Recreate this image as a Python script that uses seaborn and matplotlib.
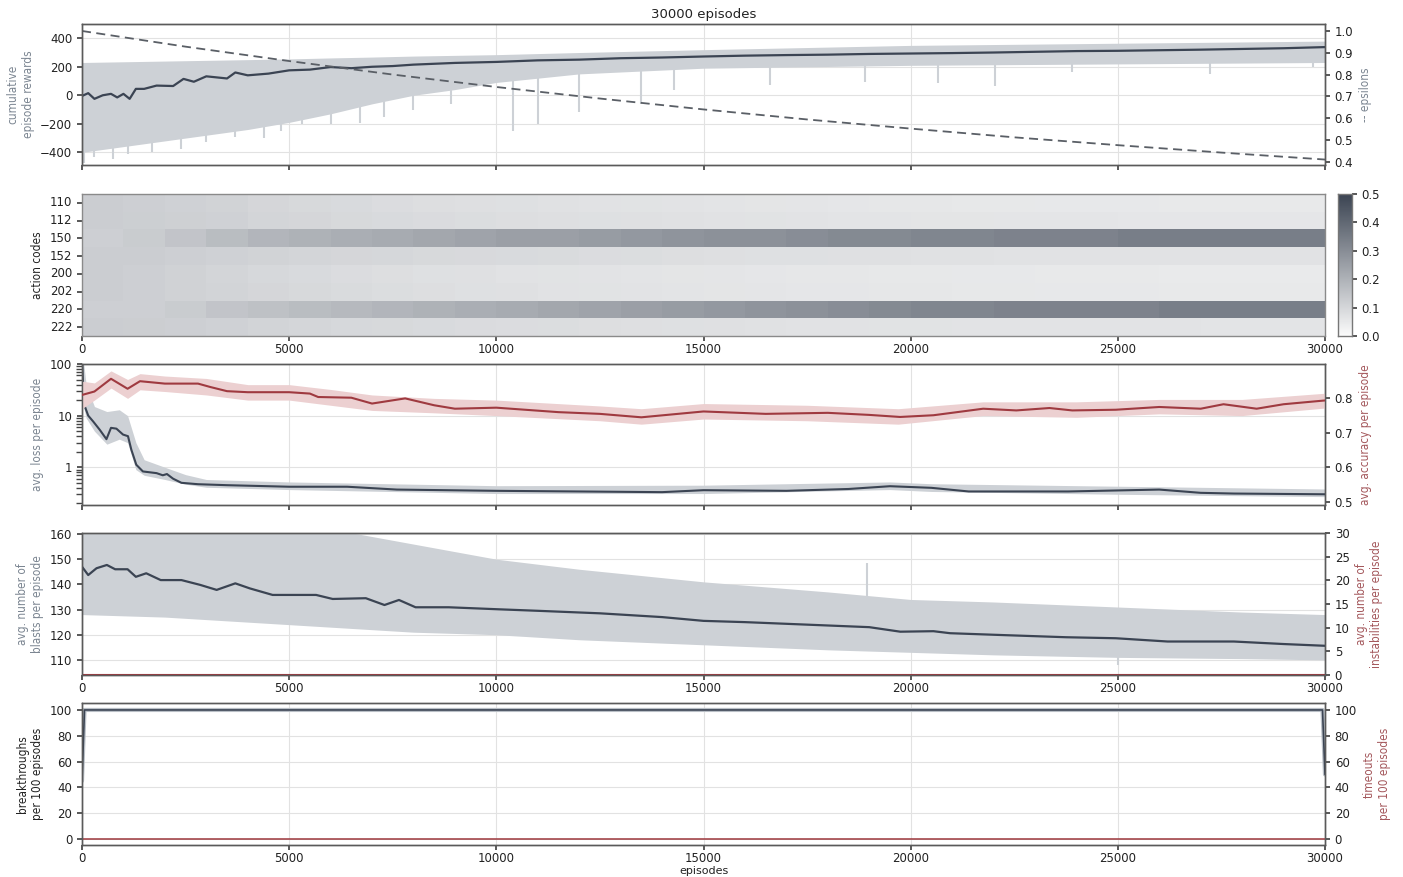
import numpy as np
import pandas as pd
import matplotlib
matplotlib.use("Agg")
import matplotlib.pyplot as plt
from matplotlib import font_manager
from matplotlib.colors import LinearSegmentedColormap
import seaborn as sns

# ---------------- training log (read at sample episodes) ----------------
# cumulative episode reward: running mean and raw-reward envelope
reward_ep = [0, 150, 300, 500, 700, 850, 1000, 1150, 1300, 1500, 1800, 2200, 2450, 2700,
             3000, 3500, 3700, 4000, 4500, 5000, 5500, 6000, 6500, 7000, 7500, 8000, 9000,
             10000, 11000, 12000, 13000, 14000, 15000, 16000, 17000, 18000, 19000, 20000,
             21000, 22000, 23000, 24000, 25000, 26000, 27000, 28000, 29000, 30000]
reward_mean = [-5, 15, -25, 0, 10, -15, 10, -25, 45, 45, 68, 65, 115, 95,
               133, 118, 160, 140, 152, 175, 180, 198, 190, 200, 205, 215, 227,
               234, 245, 250, 260, 265, 272, 278, 282, 285, 290, 293,
               296, 300, 305, 310, 312, 316, 320, 325, 330, 338]
reward_band_ep = [0, 1000, 2000, 3000, 4000, 5000, 6000, 7000, 8000, 9000, 10000,
                  12000, 15000, 20000, 25000, 30000]
reward_hi = [230, 235, 240, 245, 250, 255, 262, 268, 275, 280, 285, 300, 320, 350, 365, 380]
reward_lo = [-400, -360, -320, -280, -240, -190, -130, -60, 0, 40, 90, 150, 190, 210, 220, 230]
# isolated low-reward episodes
reward_dip_ep = [50, 300, 750, 1100, 1700, 2400, 3000, 3700, 4400, 4800, 5300, 6000, 6700,
                 7300, 8000, 8900, 10400, 11000, 12000, 13500, 14300, 16600, 18900, 20670,
                 22040, 23890, 27230, 29720]
reward_dip = [-477, -430, -445, -410, -400, -380, -330, -290, -300, -250, -200, -200, -196,
              -150, -100, -60, -250, -200, -120, -60, 40, 70, 90, 84, 63, 163, 152, 200]

# exploration rate
eps_ep = [0, 2500, 5000, 7500, 10000, 12500, 15000, 17500, 20000, 22500, 25000, 27500, 30000]
epsilons = [1.0, 0.928, 0.862, 0.800, 0.743, 0.690, 0.640, 0.594, 0.552, 0.512, 0.476, 0.442, 0.41]

# action frequencies, one column per 1000 episodes
action_codes = ["110", "112", "150", "152", "200", "202", "220", "222"]
freq_110 = [0.125, 0.12, 0.115, 0.11, 0.10, 0.095, 0.09, 0.085, 0.08, 0.078,
            0.075, 0.072, 0.07, 0.068, 0.066, 0.064, 0.062, 0.06, 0.058, 0.056,
            0.055, 0.054, 0.053, 0.052, 0.052, 0.051, 0.05, 0.05, 0.05, 0.05]
freq_112 = [0.125, 0.122, 0.118, 0.114, 0.105, 0.10, 0.095, 0.09, 0.086, 0.083,
            0.08, 0.078, 0.076, 0.074, 0.072, 0.07, 0.068, 0.066, 0.064, 0.063,
            0.062, 0.061, 0.06, 0.06, 0.059, 0.058, 0.058, 0.057, 0.057, 0.057]
freq_150 = [0.12, 0.13, 0.15, 0.17, 0.19, 0.20, 0.21, 0.22, 0.23, 0.24,
            0.25, 0.25, 0.26, 0.27, 0.28, 0.29, 0.29, 0.30, 0.31, 0.31,
            0.32, 0.32, 0.33, 0.33, 0.33, 0.34, 0.34, 0.34, 0.34, 0.34]
freq_152 = [0.125, 0.125, 0.12, 0.115, 0.11, 0.105, 0.10, 0.098, 0.095, 0.092,
            0.09, 0.088, 0.085, 0.083, 0.08, 0.078, 0.076, 0.075, 0.074, 0.073,
            0.072, 0.071, 0.07, 0.07, 0.07, 0.07, 0.07, 0.07, 0.07, 0.07]
freq_200 = [0.125, 0.12, 0.112, 0.105, 0.097, 0.09, 0.085, 0.08, 0.076, 0.073,
            0.07, 0.067, 0.065, 0.063, 0.061, 0.06, 0.058, 0.056, 0.055, 0.054,
            0.053, 0.052, 0.051, 0.05, 0.05, 0.049, 0.048, 0.048, 0.048, 0.048]
freq_202 = [0.125, 0.12, 0.113, 0.107, 0.10, 0.094, 0.088, 0.083, 0.079, 0.076,
            0.073, 0.07, 0.068, 0.066, 0.064, 0.062, 0.06, 0.058, 0.057, 0.056,
            0.055, 0.054, 0.053, 0.052, 0.052, 0.051, 0.05, 0.05, 0.05, 0.05]
freq_220 = [0.12, 0.12, 0.13, 0.15, 0.16, 0.17, 0.18, 0.19, 0.20, 0.21,
            0.22, 0.23, 0.24, 0.25, 0.26, 0.27, 0.28, 0.29, 0.30, 0.31,
            0.32, 0.32, 0.33, 0.33, 0.33, 0.33, 0.34, 0.34, 0.34, 0.34]
freq_222 = [0.125, 0.124, 0.12, 0.114, 0.108, 0.102, 0.097, 0.094, 0.09, 0.087,
            0.085, 0.083, 0.08, 0.078, 0.076, 0.074, 0.072, 0.07, 0.069, 0.068,
            0.067, 0.066, 0.065, 0.065, 0.065, 0.065, 0.065, 0.064, 0.064, 0.064]
freq_bin_width = 1000

# loss (log scale) and accuracy
loss_ep = [0, 30, 70, 150, 270, 430, 590, 700, 830, 990, 1110, 1190, 1310, 1470, 1800,
           1950, 2050, 2200, 2400, 2800, 3500, 5000, 6400, 7600, 10000, 12000, 14000,
           15000, 17000, 18500, 19500, 20500, 21400, 23800, 26000, 27000, 27800, 30000]
loss_mean = [150, 30, 15, 10, 7.7, 5.3, 3.5, 5.8, 5.6, 4.3, 4.0, 2.2, 1.12, 0.83, 0.77,
             0.70, 0.74, 0.60, 0.50, 0.47, 0.45, 0.42, 0.42, 0.37, 0.35, 0.34, 0.33,
             0.36, 0.35, 0.38, 0.43, 0.40, 0.34, 0.34, 0.37, 0.32, 0.31, 0.30]
loss_band_ep = [0, 100, 300, 600, 900, 1100, 1300, 1500, 2000, 2500, 3000, 5000, 10000,
                15000, 19500, 20500, 25000, 30000]
loss_hi = [200, 40, 15, 12, 13, 10, 3.0, 1.4, 1.0, 0.72, 0.58, 0.52, 0.44, 0.45, 0.52, 0.48, 0.43, 0.38]
loss_lo = [20, 9, 5, 2.8, 3.5, 3, 0.9, 0.7, 0.58, 0.47, 0.41, 0.37, 0.31, 0.31, 0.37, 0.34, 0.3, 0.27]

acc_ep = [0, 300, 700, 1100, 1400, 2000, 2800, 3100, 3500, 4000, 5000, 5500, 5700, 6500,
          7000, 7800, 8500, 9000, 10000, 11500, 12500, 13500, 15000, 16500, 18000, 19000,
          19745, 20550, 21750, 22550, 23350, 23900, 24950, 26000, 27000, 27550, 28350,
          29000, 30000]
acc_mean = [0.81, 0.82, 0.857, 0.828, 0.85, 0.843, 0.843, 0.833, 0.821, 0.818, 0.818, 0.814,
            0.804, 0.802, 0.785, 0.80, 0.78, 0.77, 0.773, 0.76, 0.755, 0.745, 0.762, 0.755,
            0.758, 0.752, 0.746, 0.751, 0.77, 0.765, 0.772, 0.765, 0.767, 0.775, 0.77,
            0.783, 0.77, 0.783, 0.794]
acc_band_ep = [0, 300, 700, 1100, 1400, 2000, 3000, 4000, 5000, 6000, 7000, 8500, 10000,
               12500, 13500, 15000, 17500, 19700, 21750, 24000, 26000, 28000, 30000]
acc_hi = [0.85, 0.845, 0.88, 0.855, 0.872, 0.865, 0.858, 0.84, 0.84, 0.826, 0.81, 0.80, 0.795,
          0.778, 0.77, 0.785, 0.78, 0.77, 0.79, 0.79, 0.797, 0.797, 0.815]
acc_lo = [0.77, 0.795, 0.83, 0.80, 0.825, 0.82, 0.81, 0.795, 0.795, 0.78, 0.765, 0.758, 0.75,
          0.735, 0.725, 0.74, 0.735, 0.725, 0.75, 0.745, 0.755, 0.75, 0.772]

# blasts and instabilities
blast_ep = [0, 150, 350, 600, 800, 1100, 1300, 1550, 1900, 2400, 2850, 3250, 3700, 4050,
            4600, 5000, 5650, 6050, 6850, 7300, 7650, 8050, 8850, 10050, 11000, 12500,
            14000, 15000, 16000, 17500, 19000, 19750, 20550, 20950, 22150, 23750, 24950,
            26200, 27800, 29000, 30000]
blast_mean = [147, 143.7, 146.4, 147.7, 146, 146, 143, 144.4, 141.7, 141.7, 139.8, 137.8,
              140.4, 138.4, 135.8, 135.8, 135.8, 134.2, 134.5, 131.8, 133.8, 130.9, 130.9,
              130.1, 129.5, 128.5, 127, 125.5, 125, 124, 123, 121.2, 121.4, 120.6, 119.9,
              119, 118.6, 117.3, 117.3, 116.3, 115.6]
blast_band_ep = [0, 2000, 4000, 6000, 8000, 10000, 12000, 15000, 18000, 20000, 22000,
                 25000, 28000, 30000]
blast_hi = [165, 165, 165, 162, 156, 150, 146, 141, 137, 134, 133, 131, 129, 128]
blast_lo = [128, 127, 125, 123, 121, 120, 118, 116, 114, 113, 112, 111, 110.5, 110]
# isolated high / low blast counts
blast_peak_ep = [18950]
blast_peak = [148.5]
blast_low_ep = [25000]
blast_low = [108]
instab_ep = [0, 30000]
instab_mean = [0, 0]

# breakthroughs and timeouts per 100 episodes
brk_ep = [0, 60, 29940, 30000]
brk_rate = [45, 100, 100, 50]
tmo_ep = [0, 30000]
tmo_rate = [0, 0]

# ---------------- styling ----------------
TICK_FS = 8.5
sns.set_theme(style="ticks", rc={
    "axes.grid": True,
    "grid.color": "#e2e2e2",
    "grid.linewidth": 0.8,
    "axes.edgecolor": "#5a5a5a",
    "axes.linewidth": 1.0,
    "xtick.color": "#444444",
    "ytick.color": "#444444",
    "xtick.labelcolor": "#222222",
    "ytick.labelcolor": "#222222",
    "xtick.labelsize": TICK_FS,
    "ytick.labelsize": TICK_FS,
    "xtick.major.size": 3.5,
    "ytick.major.size": 3.5,
    "xtick.major.pad": 1.5,
})
plt.rcParams["font.family"] = ["DejaVu Sans"]

available = {f.name for f in font_manager.fontManager.ttflist}
if "Liberation Sans Narrow" in available:
    LABEL_FONT = dict(family="Liberation Sans Narrow")
else:
    LABEL_FONT = dict(family="DejaVu Sans", stretch="condensed")

DARK = "#3b4453"
BAND = "#cdd1d6"
RED = "#9f3a40"
RED_BAND = "#ecd0d1"
GREY_LABEL = "#7b8591"
RED_LABEL = "#a4585c"
LBL = 8.5

W_PX, H_PX = 1403, 877
fig = plt.figure(figsize=(W_PX / 100, H_PX / 100), dpi=100)


def rect(top, bottom, left=82, right=1325):
    return [left / W_PX, 1 - bottom / H_PX, (right - left) / W_PX, (bottom - top) / H_PX]


XTICKS = np.arange(0, 30001, 5000)


def setup_x(ax, labels=True):
    ax.set_xlim(0, 30000)
    ax.set_xticks(XTICKS)
    if labels:
        ax.set_xticklabels([str(t) for t in XTICKS])
    else:
        ax.set_xticklabels([])
    ax.set_xlabel("")


# ---- panel 1: rewards + epsilon ----
ax1 = fig.add_axes(rect(24, 165))
ax1.fill_between(reward_band_ep, reward_lo, reward_hi, color=BAND, lw=0, zorder=1)
ax1.vlines(reward_dip_ep, reward_dip,
           np.interp(reward_dip_ep, reward_band_ep, reward_lo), color=BAND, lw=1.5, zorder=1)
sns.lineplot(x=reward_ep, y=reward_mean, ax=ax1, color=DARK, lw=1.6, zorder=3)
ax1.set_ylim(-489, 500)
ax1.set_yticks([-400, -200, 0, 200, 400])
setup_x(ax1, labels=False)
ax1.set_ylabel("cumulative\nepisode rewards", color=GREY_LABEL, fontsize=LBL, **LABEL_FONT)
ax1.set_title("30000 episodes", fontsize=9.5, color="#222222", pad=4)
ax1r = ax1.twinx()
sns.lineplot(x=eps_ep, y=epsilons, ax=ax1r, color="#5a5f66", lw=1.3, linestyle=(0, (5, 3)))
ax1r.set_ylim(0.385, 1.032)
ax1r.set_yticks([0.4, 0.5, 0.6, 0.7, 0.8, 0.9, 1.0])
ax1r.grid(False)
ax1r.set_ylabel("-- epsilons", color=GREY_LABEL, fontsize=LBL, **LABEL_FONT)

# ---- panel 2: action code heatmap ----
ax2 = fig.add_axes(rect(194, 336))
cax = fig.add_axes(rect(194, 336, left=1338, right=1352))
freq = pd.DataFrame(
    [freq_110, freq_112, freq_150, freq_152, freq_200, freq_202, freq_220, freq_222],
    index=action_codes,
    columns=[i * freq_bin_width for i in range(len(freq_110))],
)
cmap = LinearSegmentedColormap.from_list("slate", ["#fbfbfb", "#3b4452"])
sns.heatmap(freq, ax=ax2, cmap=cmap, vmin=0, vmax=0.5, cbar_ax=cax,
            cbar_kws={"ticks": [0, 0.1, 0.2, 0.3, 0.4, 0.5]})
ax2.set_xticks(XTICKS / freq_bin_width)
ax2.set_xticklabels([str(t) for t in XTICKS], rotation=0, fontsize=TICK_FS)
ax2.set_yticklabels(action_codes, rotation=0, fontsize=TICK_FS)
ax2.set_ylabel("action codes", color="#222222", fontsize=LBL, **LABEL_FONT)
ax2.set_xlabel("")
ax2.tick_params(axis="both", length=3.5, color="#444444")
for s in ax2.spines.values():
    s.set_visible(True)
    s.set_color("#8a8a8a")
cax.tick_params(labelsize=TICK_FS, length=3.5)
cax.yaxis.set_major_formatter(matplotlib.ticker.FormatStrFormatter("%.1f"))
for s in cax.spines.values():
    s.set_visible(True)
    s.set_color("#777777")

# ---- panel 3: loss + accuracy ----
ax3 = fig.add_axes(rect(364, 505))
ax3.fill_between(loss_band_ep, loss_lo, loss_hi, color=BAND, lw=0, zorder=1)
sns.lineplot(x=loss_ep, y=loss_mean, ax=ax3, color=DARK, lw=1.5, zorder=3)
ax3.set_yscale("log")
ax3.set_ylim(0.186, 100)
ax3.set_yticks([1, 10, 100])
ax3.set_yticklabels(["1", "10", "100"])
setup_x(ax3, labels=False)
ax3.set_ylabel("avg. loss per episode", color=GREY_LABEL, fontsize=LBL, **LABEL_FONT)
ax3r = ax3.twinx()
ax3r.fill_between(acc_band_ep, acc_lo, acc_hi, color=RED_BAND, lw=0, zorder=1)
sns.lineplot(x=acc_ep, y=acc_mean, ax=ax3r, color=RED, lw=1.5, zorder=3)
ax3r.set_ylim(0.49, 0.9)
ax3r.set_yticks([0.5, 0.6, 0.7, 0.8])
ax3r.grid(False)
ax3r.set_ylabel("avg. accuracy per episode", color=RED_LABEL, fontsize=LBL, **LABEL_FONT)

# ---- panel 4: blasts + instabilities ----
ax4 = fig.add_axes(rect(533, 675))
ax4.fill_between(blast_band_ep, blast_lo, blast_hi, color=BAND, lw=0, zorder=1)
ax4.vlines(blast_peak_ep, np.interp(blast_peak_ep, blast_band_ep, blast_hi), blast_peak,
           color=BAND, lw=1.5, zorder=1)
ax4.vlines(blast_low_ep, blast_low, np.interp(blast_low_ep, blast_band_ep, blast_lo),
           color=BAND, lw=1.5, zorder=1)
sns.lineplot(x=blast_ep, y=blast_mean, ax=ax4, color=DARK, lw=1.6, zorder=3)
ax4.set_ylim(104, 160.4)
ax4.set_yticks([110, 120, 130, 140, 150, 160])
setup_x(ax4, labels=True)
ax4.set_ylabel("avg. number of\nblasts per episode", color=GREY_LABEL, fontsize=LBL, **LABEL_FONT)
ax4r = ax4.twinx()
sns.lineplot(x=instab_ep, y=instab_mean, ax=ax4r, color=RED, lw=1.5)
ax4r.set_ylim(0, 30)
ax4r.set_yticks([0, 5, 10, 15, 20, 25, 30])
ax4r.grid(False)
ax4r.set_ylabel("avg. number of\ninstabilities per episode", color=RED_LABEL, fontsize=LBL, **LABEL_FONT)

# ---- panel 5: breakthroughs + timeouts ----
ax5 = fig.add_axes(rect(703, 845))
sns.lineplot(x=brk_ep, y=brk_rate, ax=ax5, color="#b9bfc6", lw=3.0, zorder=2)
sns.lineplot(x=brk_ep, y=brk_rate, ax=ax5, color=DARK, lw=1.2, zorder=3)
ax5.set_ylim(-4.7, 105.4)
ax5.set_yticks([0, 20, 40, 60, 80, 100])
setup_x(ax5, labels=True)
ax5.set_ylabel("breakthroughs\nper 100 episodes", color="#222222", fontsize=LBL, **LABEL_FONT)
ax5r = ax5.twinx()
sns.lineplot(x=tmo_ep, y=tmo_rate, ax=ax5r, color=RED, lw=1.4, alpha=0.8)
ax5r.set_ylim(-4.7, 105.4)
ax5r.set_yticks([0, 20, 40, 60, 80, 100])
ax5r.grid(False)
ax5r.set_ylabel("timeouts\nper 100 episodes", color=RED_LABEL, fontsize=LBL, **LABEL_FONT)
ax5r.set_xlabel("")
fig.text((82 + 1325) / 2 / W_PX, 1 - 870.5 / H_PX, "episodes", ha="center", va="center",
         fontsize=8, color="#222222")

for a in (ax1, ax1r, ax3, ax3r, ax4, ax4r, ax5, ax5r):
    for s in a.spines.values():
        s.set_visible(True)
        s.set_color("#5a5a5a")
    if a.get_legend() is not None:
        a.get_legend().remove()

fig.savefig("out.png", dpi=100)
